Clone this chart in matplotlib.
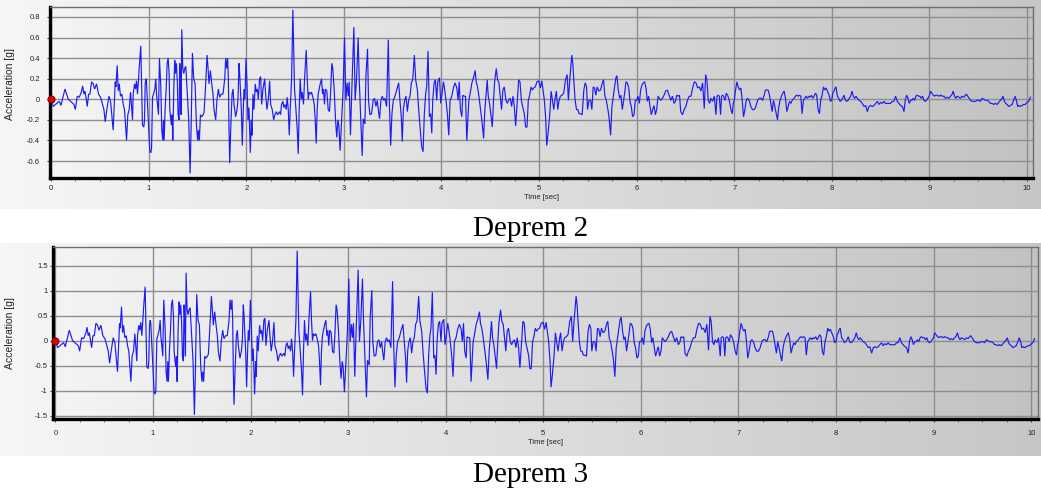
import numpy as np
import matplotlib
matplotlib.use("Agg")
import matplotlib.pyplot as plt
from matplotlib.colors import LinearSegmentedColormap
from matplotlib.ticker import FuncFormatter

# ---------------- data ----------------
TIME_S = [
    0.000, 0.024, 0.058, 0.085, 0.102, 0.143, 0.177, 0.211, 0.235, 0.249,
    0.269, 0.290, 0.314, 0.324, 0.337, 0.348, 0.372, 0.385, 0.399, 0.416,
    0.433, 0.447, 0.467, 0.487, 0.508, 0.528, 0.542, 0.556, 0.569, 0.593,
    0.610, 0.637, 0.648, 0.658, 0.665, 0.678, 0.689, 0.699, 0.712, 0.726,
    0.740, 0.753, 0.774, 0.787, 0.801, 0.815, 0.835, 0.842, 0.856, 0.866,
    0.876, 0.886, 0.897, 0.903, 0.914, 0.920, 0.927, 0.937, 0.951, 0.958,
    0.965, 0.972, 0.978, 0.992, 1.012, 1.023, 1.030, 1.040, 1.050, 1.064,
    1.074, 1.081, 1.091, 1.101, 1.111, 1.125, 1.135, 1.145, 1.152, 1.159,
    1.169, 1.180, 1.190, 1.200, 1.210, 1.217, 1.227, 1.234, 1.241, 1.248,
    1.258, 1.268, 1.275, 1.285, 1.295, 1.302, 1.312, 1.319, 1.326, 1.333,
    1.340, 1.350, 1.360, 1.370, 1.381, 1.394, 1.405, 1.411, 1.425, 1.435,
    1.449, 1.462, 1.476, 1.490, 1.503, 1.510, 1.520, 1.531, 1.544, 1.558,
    1.568, 1.582, 1.599, 1.609, 1.619, 1.633, 1.647, 1.660, 1.670, 1.687,
    1.701, 1.715, 1.728, 1.745, 1.762, 1.780, 1.790, 1.800, 1.810, 1.817,
    1.824, 1.831, 1.841, 1.855, 1.865, 1.875, 1.892, 1.906, 1.916, 1.926,
    1.933, 1.940, 1.950, 1.960, 1.967, 1.977, 1.987, 1.998, 2.008, 2.018,
    2.028, 2.035, 2.042, 2.052, 2.059, 2.069, 2.079, 2.093, 2.103, 2.114,
    2.124, 2.137, 2.148, 2.158, 2.172, 2.189, 2.199, 2.212, 2.226, 2.240,
    2.250, 2.267, 2.281, 2.294, 2.308, 2.322, 2.342, 2.352, 2.362, 2.376,
    2.386, 2.397, 2.410, 2.420, 2.431, 2.441, 2.451, 2.465, 2.478, 2.495,
    2.506, 2.523, 2.533, 2.543, 2.553, 2.564, 2.574, 2.587, 2.598, 2.615,
    2.625, 2.635, 2.645, 2.659, 2.669, 2.683, 2.697, 2.707, 2.717, 2.727,
    2.737, 2.748, 2.758, 2.772, 2.782, 2.792, 2.802, 2.812, 2.826, 2.840,
    2.853, 2.864, 2.877, 2.887, 2.901, 2.915, 2.928, 2.939, 2.949, 2.962,
    2.973, 2.983, 2.993, 3.007,
    3.021, 3.034, 3.045, 3.055, 3.068, 3.082, 3.103, 3.116, 3.130, 3.147,
    3.158, 3.171, 3.188, 3.199, 3.216, 3.226, 3.243, 3.253, 3.267, 3.284,
    3.301, 3.315, 3.329, 3.343, 3.353, 3.366, 3.380, 3.394, 3.408, 3.421,
    3.438, 3.456, 3.466, 3.480, 3.493, 3.507, 3.524, 3.541, 3.562, 3.575,
    3.589, 3.599, 3.610, 3.623, 3.637, 3.651, 3.664, 3.678, 3.692, 3.706,
    3.723, 3.736, 3.754, 3.767, 3.781, 3.798, 3.812, 3.825, 3.839, 3.849,
    3.863, 3.877, 3.890, 3.901, 3.911, 3.925, 3.938, 3.952, 3.962, 3.980,
    3.993, 4.007, 4.021, 4.034, 4.048, 4.062, 4.075, 4.089, 4.106, 4.123,
    4.140, 4.158, 4.171, 4.182, 4.195, 4.209, 4.219, 4.233, 4.247, 4.260,
    4.271, 4.281, 4.295, 4.312, 4.329, 4.346, 4.356, 4.370, 4.384, 4.397,
    4.414, 4.432, 4.445, 4.459, 4.469, 4.480, 4.493, 4.507, 4.521, 4.534,
    4.545, 4.562, 4.575, 4.589, 4.603, 4.616, 4.630, 4.644, 4.661, 4.675,
    4.688, 4.705, 4.719, 4.733, 4.747, 4.760, 4.774, 4.791, 4.805, 4.819,
    4.832, 4.849, 4.863, 4.877, 4.890, 4.904, 4.918, 4.932, 4.945, 4.962,
    4.979, 4.997, 5.014, 5.028, 5.041, 5.055, 5.069, 5.079, 5.093, 5.110,
    5.124, 5.137, 5.151, 5.168, 5.178, 5.192, 5.206, 5.219, 5.236, 5.253,
    5.271, 5.288, 5.301, 5.315, 5.326, 5.336, 5.346, 5.356, 5.370, 5.384,
    5.398, 5.411, 5.425, 5.442, 5.459, 5.473, 5.487, 5.497, 5.511, 5.528,
    5.541, 5.555, 5.569, 5.582, 5.596, 5.613, 5.630, 5.648, 5.661, 5.675,
    5.689, 5.706, 5.719, 5.733, 5.747, 5.761, 5.774, 5.788, 5.798, 5.812,
    5.826, 5.839, 5.853, 5.863, 5.877, 5.891, 5.904, 5.918, 5.932, 5.945,
    5.959, 5.973, 5.986, 6.000, 6.014, 6.028, 6.041, 6.055, 6.069, 6.082,
    6.096, 6.110, 6.123, 6.137, 6.151, 6.164, 6.178, 6.192, 6.206, 6.219,
    6.233, 6.247, 6.264, 6.281, 6.298, 6.315, 6.332, 6.350, 6.367, 6.384,
    6.398, 6.411, 6.425, 6.439, 6.452, 6.470, 6.487, 6.504, 6.521, 6.538,
    6.557, 6.574, 6.591, 6.608, 6.625, 6.642, 6.659, 6.676, 6.693, 6.707,
    6.720, 6.734, 6.748, 6.761, 6.778, 6.795, 6.813, 6.823, 6.836, 6.847,
    6.860, 6.870, 6.881, 6.891, 6.905, 6.918, 6.932, 6.949, 6.966, 6.980,
    6.990, 7.000, 7.014, 7.027, 7.041, 7.055, 7.068, 7.082, 7.095, 7.109,
    7.123, 7.136, 7.153, 7.170, 7.187, 7.205, 7.222, 7.239, 7.256, 7.273,
    7.290, 7.307, 7.320, 7.334, 7.348, 7.361, 7.375, 7.389, 7.402, 7.416,
    7.430, 7.443, 7.457, 7.470, 7.484, 7.498, 7.511, 7.525, 7.539, 7.552,
    7.566, 7.580, 7.593, 7.614, 7.627, 7.641, 7.655, 7.668, 7.682, 7.695,
    7.709, 7.723, 7.736, 7.750, 7.764, 7.777, 7.791, 7.805, 7.818, 7.832,
    7.845, 7.859, 7.873, 7.886, 7.900, 7.914, 7.927, 7.941, 7.955, 7.972,
    7.985, 7.999, 8.009, 8.023, 8.033, 8.043, 8.057, 8.070, 8.084, 8.098,
    8.111, 8.125, 8.139, 8.152, 8.166, 8.180, 8.193, 8.207, 8.220, 8.234,
    8.248, 8.261, 8.278, 8.295, 8.312, 8.330, 8.347, 8.364, 8.381, 8.398,
    8.415, 8.432, 8.449, 8.466, 8.483, 8.500, 8.517, 8.534, 8.551, 8.568,
    8.585, 8.602, 8.619, 8.636, 8.653, 8.670, 8.687, 8.705, 8.722, 8.739,
    8.752, 8.766, 8.780, 8.793, 8.807, 8.820, 8.834, 8.848, 8.861, 8.875,
    8.889, 8.902, 8.916, 8.930, 8.943, 8.957, 8.970, 8.984, 8.998, 9.011,
    9.025, 9.039, 9.052, 9.066, 9.080, 9.097, 9.114, 9.131, 9.148, 9.165,
    9.182, 9.199, 9.216, 9.233, 9.243, 9.257, 9.270, 9.284, 9.301, 9.318,
    9.335, 9.352, 9.369, 9.379, 9.393, 9.407, 9.420, 9.437, 9.454, 9.471,
    9.489, 9.506, 9.523, 9.540, 9.557, 9.574, 9.591, 9.608, 9.625, 9.642,
    9.659, 9.676, 9.693, 9.710, 9.727, 9.744, 9.754, 9.768, 9.782, 9.795,
    9.812, 9.829, 9.846, 9.863, 9.877, 9.891, 9.904, 9.918, 9.932, 9.949,
    9.966, 9.983, 10.000, 10.017, 10.034,
]

DEPREM2_G = [
    0.00, -0.07, -0.04, -0.02, -0.06, 0.10, 0.00, -0.03, -0.05, -0.10,
    0.03, 0.02, 0.08, 0.13, 0.05, 0.08, -0.07, 0.05, 0.05, 0.17,
    0.15, 0.10, 0.15, 0.05, 0.02, -0.05, -0.10, -0.22, -0.12, 0.03,
    -0.02, -0.30, -0.05, 0.17, 0.12, 0.33, 0.08, 0.15, 0.03, 0.05,
    -0.05, -0.10, -0.40, -0.15, -0.10, 0.07, -0.20, 0.05, 0.15, 0.10,
    0.18, 0.05, 0.20, 0.30, 0.45, 0.52, 0.20, -0.25, -0.27, -0.20,
    0.15, 0.20, 0.17, -0.10, -0.50, -0.52, -0.48, 0.02, 0.05, 0.10,
    0.20, 0.05, -0.05, -0.15, 0.40, 0.12, -0.30, -0.40, -0.20, -0.40,
    -0.10, 0.10, 0.35, 0.40, 0.25, -0.10, -0.20, -0.25, -0.15, -0.40,
    0.10, 0.38, 0.25, 0.35, 0.15, -0.15, -0.20, 0.35, 0.20, -0.15,
    0.68, 0.30, 0.25, 0.30, 0.32, 0.10, -0.10, -0.20, -0.72, -0.30,
    0.45, 0.20, 0.15, -0.25, -0.40, -0.30, -0.40, -0.15, -0.17, -0.15,
    -0.13, 0.10, 0.43, 0.30, 0.15, 0.28, 0.15, 0.05, -0.10, -0.20,
    0.00, 0.10, 0.02, 0.05, 0.05, 0.20, 0.40, 0.30, 0.40, 0.20,
    -0.30, -0.62, -0.30, 0.05, 0.10, -0.05, -0.17, -0.10, 0.00, 0.35,
    0.25, 0.10, -0.10, -0.45, -0.20, 0.10, 0.00, 0.40, 0.15, -0.20,
    -0.08, -0.30, -0.52, -0.20, -0.35, 0.05, -0.10, 0.15, 0.07, 0.10,
    0.00, 0.20, 0.22, -0.05, 0.10, 0.20, 0.05, -0.10, 0.00, 0.18,
    -0.05, -0.10, -0.20, -0.15, -0.12, -0.15, -0.12, -0.15, -0.05, -0.02,
    -0.08, -0.05, -0.10, 0.02, -0.10, -0.35, -0.10, 0.20, 0.87, 0.10,
    -0.05, -0.30, -0.53, -0.10, 0.20, 0.00, 0.07, -0.05, 0.20, 0.48,
    0.20, 0.00, 0.07, 0.05, 0.07, 0.02, -0.05, -0.20, -0.43, -0.10,
    0.05, 0.10, 0.15, 0.20, 0.05, 0.10, -0.05, 0.10, 0.08, -0.10,
    -0.12, 0.05, 0.35, 0.30, 0.10, -0.20, -0.37, -0.20, -0.25, -0.50,
    -0.30, -0.10, 0.10, 0.60,
    -0.01, 0.16, 0.03, 0.17, -0.35, 0.09, 0.70, -0.01, 0.19, 0.60,
    0.19, -0.14, -0.55, -0.19, -0.24, 0.22, 0.49, -0.01, -0.15, -0.14,
    -0.01, 0.01, -0.07, -0.01, -0.10, -0.19, -0.01, 0.03, -0.01, 0.01,
    -0.07, 0.58, -0.01, -0.45, -0.14, -0.01, 0.03, 0.09, 0.16, -0.01,
    -0.17, -0.41, -0.10, -0.01, 0.03, -0.12, -0.01, 0.03, 0.16, 0.19,
    0.43, 0.19, 0.09, -0.10, -0.27, -0.46, -0.51, -0.14, 0.06, 0.12,
    0.47, -0.17, -0.14, -0.33, -0.01, 0.16, 0.19, -0.01, 0.17, 0.21,
    -0.04, 0.06, 0.17, 0.09, -0.02, -0.15, -0.35, -0.01, 0.03, 0.11,
    0.16, 0.11, -0.01, 0.17, -0.10, -0.17, 0.04, 0.03, 0.03, -0.40,
    -0.20, -0.01, 0.06, 0.16, 0.21, 0.28, 0.17, 0.12, 0.03, -0.07,
    -0.20, -0.38, -0.10, 0.06, 0.19, 0.03, -0.04, -0.15, -0.27, -0.01,
    0.17, 0.30, 0.19, 0.16, 0.03, -0.10, 0.09, 0.12, -0.01, -0.04,
    -0.01, 0.01, -0.07, 0.03, -0.07, -0.26, -0.07, 0.19, 0.17, -0.01,
    -0.07, -0.14, -0.27, -0.27, -0.01, 0.04, 0.12, 0.09, 0.11, 0.12,
    0.17, 0.18, 0.11, 0.18, 0.09, -0.01, -0.20, -0.45, -0.33, -0.15,
    0.08, -0.01, -0.10, 0.03, 0.08, -0.10, -0.01, 0.03, 0.04, 0.06,
    0.19, 0.24, -0.01, 0.19, 0.32, 0.43, 0.35, 0.19, -0.01, -0.10,
    -0.10, -0.14, -0.14, -0.15, 0.09, 0.16, 0.12, -0.10, -0.01, -0.01,
    -0.10, 0.12, 0.11, 0.04, 0.12, 0.08, 0.09, 0.16, 0.19, 0.03,
    -0.01, -0.10, -0.19, -0.35, -0.07, 0.03, 0.12, 0.21, 0.23, 0.09,
    0.01, 0.04, -0.10, -0.04, 0.06, 0.17, 0.16, 0.12, -0.02, -0.07,
    -0.17, -0.15, -0.01, -0.01, 0.03, -0.04, 0.09, 0.14, 0.16, 0.17,
    0.11, -0.02, 0.03, -0.07, -0.15, -0.10, -0.06, -0.15, -0.10, 0.03,
    0.01, -0.01, 0.01, 0.04, 0.08, 0.09, 0.04, -0.01, 0.03, -0.04,
    -0.02, 0.04, 0.03, 0.04, -0.12, -0.15, -0.10, -0.07, -0.01, 0.03,
    0.03, 0.11, 0.17, 0.16, 0.11, 0.12, 0.08, 0.16, -0.09, 0.24,
    0.19, -0.01, -0.04, 0.01, -0.02, 0.03, -0.15, 0.03, 0.04, 0.03,
    -0.15, 0.03, 0.04, 0.03, -0.01, 0.06, 0.04, -0.01, -0.10, -0.14,
    -0.04, -0.01, 0.09, 0.17, 0.12, 0.09, 0.11, -0.01, -0.17, -0.10,
    -0.01, 0.01, -0.01, -0.07, -0.10, -0.10, -0.07, -0.01, 0.01, 0.01,
    -0.01, 0.04, 0.09, 0.09, 0.09, 0.04, -0.04, -0.12, -0.01, -0.07,
    -0.14, -0.20, -0.07, -0.01, 0.03, 0.06, 0.08, 0.01, -0.12, -0.07,
    -0.02, -0.04, -0.01, 0.01, 0.03, 0.04, 0.03, 0.04, 0.03, -0.14,
    -0.01, 0.01, 0.03, 0.01, 0.03, 0.02, 0.04, 0.01, 0.03, 0.06,
    0.04, -0.10, -0.14, -0.01, 0.04, 0.12, 0.09, 0.11, 0.08, 0.04,
    -0.02, -0.01, 0.06, 0.08, 0.11, 0.12, 0.03, 0.01, -0.02, -0.01,
    0.01, 0.04, -0.01, -0.02, -0.01, 0.01, 0.03, 0.08, 0.03, 0.01,
    0.03, 0.01, -0.01, -0.02, -0.04, -0.07, -0.06, -0.12, -0.07, -0.06,
    -0.07, -0.06, -0.04, -0.02, -0.05, -0.03, -0.04, -0.02, -0.04, -0.04,
    -0.04, -0.04, -0.02, -0.02, 0.03, -0.02, -0.04, -0.06, -0.07, -0.12,
    -0.01, 0.04, 0.01, -0.04, -0.01, -0.01, 0.01, -0.01, 0.03, 0.04,
    0.03, 0.03, 0.01, 0.03, -0.01, -0.02, -0.01, 0.01, 0.03, 0.08,
    0.06, 0.04, 0.03, 0.04, 0.04, 0.03, 0.04, 0.03, 0.03, 0.01,
    0.02, 0.01, 0.03, 0.05, 0.08, 0.03, 0.01, 0.03, 0.02, 0.01,
    0.03, 0.02, 0.04, 0.05, 0.03, 0.01, -0.01, -0.02, -0.02, -0.02,
    -0.01, -0.01, -0.02, 0.01, 0.00, -0.01, -0.01, -0.02, -0.04, -0.04,
    -0.05, -0.04, -0.05, -0.03, -0.01, 0.01, 0.03, -0.02, -0.04, -0.05,
    -0.07, -0.06, -0.05, -0.01, 0.03, -0.01, -0.07, -0.06, -0.07, -0.06,
    -0.05, -0.05, -0.03, -0.02, 0.02,
]

DEPREM3_G = [
    0.00, -0.14, -0.08, -0.04, -0.12, 0.21, 0.00, -0.06, -0.10, -0.21,
    0.06, 0.04, 0.16, 0.27, 0.10, 0.16, -0.14, 0.10, 0.10, 0.35,
    0.31, 0.21, 0.31, 0.10, 0.04, -0.10, -0.21, -0.45, -0.25, 0.06,
    -0.04, -0.62, -0.10, 0.35, 0.25, 0.68, 0.16, 0.31, 0.06, 0.10,
    -0.10, -0.21, -0.82, -0.31, -0.21, 0.14, -0.41, 0.10, 0.31, 0.21,
    0.37, 0.10, 0.41, 0.62, 0.93, 1.08, 0.41, -0.52, -0.56, -0.41,
    0.31, 0.41, 0.35, -0.21, -1.03, -1.07, -0.99, 0.04, 0.10, 0.21,
    0.41, 0.10, -0.10, -0.31, 0.82, 0.25, -0.62, -0.82, -0.41, -0.82,
    -0.21, 0.21, 0.72, 0.82, 0.52, -0.21, -0.41, -0.52, -0.31, -0.82,
    0.21, 0.78, 0.52, 0.72, 0.31, -0.31, -0.41, 0.72, 0.41, -0.31,
    1.36, 0.62, 0.52, 0.62, 0.66, 0.21, -0.21, -0.41, -1.48, -0.62,
    0.93, 0.41, 0.31, -0.52, -0.82, -0.62, -0.82, -0.31, -0.35, -0.31,
    -0.27, 0.21, 0.89, 0.62, 0.31, 0.58, 0.31, 0.10, -0.21, -0.41,
    0.00, 0.21, 0.04, 0.10, 0.10, 0.41, 0.82, 0.62, 0.82, 0.41,
    -0.62, -1.28, -0.62, 0.10, 0.21, -0.10, -0.35, -0.21, 0.00, 0.72,
    0.52, 0.21, -0.21, -0.93, -0.41, 0.21, 0.00, 0.82, 0.31, -0.41,
    -0.16, -0.62, -1.07, -0.41, -0.72, 0.10, -0.21, 0.31, 0.14, 0.21,
    0.00, 0.41, 0.45, -0.10, 0.21, 0.41, 0.10, -0.21, 0.00, 0.37,
    -0.10, -0.21, -0.41, -0.31, -0.25, -0.31, -0.25, -0.31, -0.10, -0.04,
    -0.16, -0.10, -0.21, 0.04, -0.21, -0.72, -0.21, 0.41, 1.80, 0.21,
    -0.10, -0.62, -1.09, -0.21, 0.41, 0.00, 0.14, -0.10, 0.41, 0.99,
    0.41, 0.00, 0.14, 0.10, 0.14, 0.04, -0.10, -0.41, -0.89, -0.21,
    0.10, 0.21, 0.31, 0.41, 0.10, 0.21, -0.10, 0.21, 0.16, -0.21,
    -0.25, 0.10, 0.72, 0.62, 0.21, -0.41, -0.76, -0.41, -0.52, -1.03,
    -0.62, -0.21, 0.21, 1.24,
    -0.02, 0.33, 0.06, 0.35, -0.72, 0.19, 1.42, -0.02, 0.39, 1.24,
    0.39, -0.29, -1.13, -0.39, -0.49, 0.45, 1.01, -0.02, -0.31, -0.29,
    -0.02, 0.02, -0.14, -0.02, -0.21, -0.39, -0.02, 0.06, -0.02, 0.02,
    -0.14, 1.19, -0.02, -0.93, -0.29, -0.02, 0.06, 0.19, 0.33, -0.02,
    -0.35, -0.84, -0.21, -0.02, 0.06, -0.25, -0.02, 0.06, 0.33, 0.39,
    0.89, 0.39, 0.19, -0.21, -0.56, -0.95, -1.05, -0.29, 0.12, 0.25,
    0.97, -0.35, -0.29, -0.68, -0.02, 0.33, 0.39, -0.02, 0.35, 0.43,
    -0.08, 0.12, 0.35, 0.19, -0.04, -0.31, -0.72, -0.02, 0.06, 0.23,
    0.33, 0.23, -0.02, 0.35, -0.21, -0.35, 0.08, 0.06, 0.06, -0.82,
    -0.41, -0.02, 0.12, 0.33, 0.43, 0.58, 0.35, 0.25, 0.06, -0.14,
    -0.41, -0.78, -0.21, 0.12, 0.39, 0.06, -0.08, -0.31, -0.56, -0.02,
    0.35, 0.62, 0.39, 0.33, 0.06, -0.21, 0.19, 0.25, -0.02, -0.08,
    -0.02, 0.02, -0.14, 0.06, -0.14, -0.54, -0.14, 0.39, 0.35, -0.02,
    -0.14, -0.29, -0.56, -0.56, -0.02, 0.08, 0.25, 0.19, 0.23, 0.25,
    0.35, 0.37, 0.23, 0.37, 0.19, -0.02, -0.41, -0.93, -0.68, -0.31,
    0.16, -0.02, -0.21, 0.06, 0.16, -0.21, -0.02, 0.06, 0.08, 0.12,
    0.39, 0.49, -0.02, 0.39, 0.66, 0.89, 0.72, 0.39, -0.02, -0.21,
    -0.21, -0.29, -0.29, -0.31, 0.19, 0.33, 0.25, -0.21, -0.02, -0.02,
    -0.21, 0.25, 0.23, 0.08, 0.25, 0.16, 0.19, 0.33, 0.39, 0.06,
    -0.02, -0.21, -0.39, -0.72, -0.14, 0.06, 0.25, 0.43, 0.47, 0.19,
    0.02, 0.08, -0.21, -0.08, 0.12, 0.35, 0.33, 0.25, -0.04, -0.14,
    -0.35, -0.31, -0.02, -0.02, 0.06, -0.08, 0.19, 0.29, 0.33, 0.35,
    0.23, -0.04, 0.06, -0.14, -0.31, -0.21, -0.12, -0.31, -0.21, 0.06,
    0.02, -0.02, 0.02, 0.08, 0.16, 0.19, 0.08, -0.02, 0.06, -0.08,
    -0.04, 0.08, 0.06, 0.08, -0.25, -0.31, -0.21, -0.14, -0.02, 0.06,
    0.06, 0.23, 0.35, 0.33, 0.23, 0.25, 0.16, 0.33, -0.19, 0.49,
    0.39, -0.02, -0.08, 0.02, -0.04, 0.06, -0.31, 0.06, 0.08, 0.06,
    -0.31, 0.06, 0.08, 0.06, -0.02, 0.12, 0.08, -0.02, -0.21, -0.29,
    -0.08, -0.02, 0.19, 0.35, 0.25, 0.19, 0.23, -0.02, -0.35, -0.21,
    -0.02, 0.02, -0.02, -0.14, -0.21, -0.21, -0.14, -0.02, 0.02, 0.02,
    -0.02, 0.08, 0.19, 0.19, 0.19, 0.08, -0.08, -0.25, -0.02, -0.14,
    -0.29, -0.41, -0.14, -0.02, 0.06, 0.12, 0.16, 0.02, -0.25, -0.14,
    -0.04, -0.08, -0.02, 0.02, 0.06, 0.08, 0.06, 0.08, 0.06, -0.29,
    -0.02, 0.02, 0.06, 0.02, 0.06, 0.04, 0.08, 0.02, 0.06, 0.12,
    0.08, -0.21, -0.29, -0.02, 0.08, 0.25, 0.19, 0.23, 0.16, 0.08,
    -0.04, -0.02, 0.12, 0.16, 0.23, 0.25, 0.06, 0.02, -0.04, -0.02,
    0.02, 0.08, -0.02, -0.04, -0.02, 0.02, 0.06, 0.16, 0.06, 0.02,
    0.06, 0.02, -0.02, -0.04, -0.08, -0.14, -0.12, -0.25, -0.14, -0.12,
    -0.14, -0.12, -0.08, -0.04, -0.10, -0.06, -0.08, -0.04, -0.08, -0.08,
    -0.08, -0.08, -0.04, -0.04, 0.06, -0.04, -0.08, -0.12, -0.14, -0.25,
    -0.02, 0.08, 0.02, -0.08, -0.02, -0.02, 0.02, -0.02, 0.06, 0.08,
    0.06, 0.06, 0.02, 0.06, -0.02, -0.04, -0.02, 0.02, 0.06, 0.16,
    0.12, 0.08, 0.06, 0.08, 0.08, 0.06, 0.08, 0.06, 0.06, 0.02,
    0.04, 0.02, 0.06, 0.10, 0.16, 0.06, 0.02, 0.06, 0.04, 0.02,
    0.06, 0.04, 0.08, 0.10, 0.06, 0.02, -0.02, -0.04, -0.04, -0.04,
    -0.02, -0.02, -0.04, 0.02, 0.00, -0.02, -0.02, -0.04, -0.08, -0.08,
    -0.10, -0.08, -0.10, -0.06, -0.02, 0.02, 0.06, -0.04, -0.08, -0.10,
    -0.14, -0.12, -0.10, -0.02, 0.06, -0.02, -0.14, -0.12, -0.14, -0.12,
    -0.10, -0.10, -0.06, -0.04, 0.04,
]

TITLES = ["Deprem 2", "Deprem 3"]
X_LABEL = "Time [sec]"
Y_LABEL = "Acceleration [g]"
X_TICKS = [0, 1, 2, 3, 4, 5, 6, 7, 8, 9, 10]
Y_TICKS_2 = [-0.6, -0.4, -0.2, 0.0, 0.2, 0.4, 0.6, 0.8]
Y_TICKS_3 = [-1.5, -1.0, -0.5, 0.0, 0.5, 1.0, 1.5]

# ---------------- layout ----------------
W, H = 1041, 492
fig = plt.figure(figsize=(W / 100, H / 100), dpi=100)
fig.patch.set_facecolor("white")

grad = np.linspace(0, 1, 256).reshape(1, -1)
panel_cmap = LinearSegmentedColormap.from_list("panel", ["#f6f6f6", "#c6c6c6"])
plot_cmap = LinearSegmentedColormap.from_list("plot", ["#f4f4f4", "#c2c2c2"])

bg = fig.add_axes([0, 0, 1, 1], zorder=-10)
bg.set_xlim(0, W)
bg.set_ylim(H, 0)
bg.axis("off")
bg.imshow(grad, extent=[0, W, 209, 0], cmap=panel_cmap, aspect="auto")
bg.imshow(grad, extent=[0, W, 456, 243], cmap=panel_cmap, aspect="auto")

sans = "Liberation Sans"

panels = [
    dict(rect=[49.5, 7, 1033, 178], x0=-0.0154, x1=10.061, ylim=(-0.765, 0.897),
         yticks=Y_TICKS_2, data=DEPREM2_G, xpad=2.5, ypad=4.5, ylab_y=0.55,
         title_y=236.5, title=TITLES[0]),
    dict(rect=[52.7, 246.7, 1038, 419], x0=-0.027, x1=10.069, ylim=(-1.566, 1.88),
         yticks=Y_TICKS_3, data=DEPREM3_G, xpad=5.5, ypad=1.0, ylab_y=0.5,
         title_y=481.5, title=TITLES[1]),
]

fmt = FuncFormatter(lambda v, p: f"{v:g}")

for p in panels:
    l, t, r, b = p["rect"]
    ax = fig.add_axes([l / W, (H - b) / H, (r - l) / W, (b - t) / H])
    ax.set_xlim(p["x0"], p["x1"])
    ax.set_ylim(*p["ylim"])
    ax.imshow(grad, extent=[p["x0"], p["x1"], p["ylim"][0], p["ylim"][1]],
              cmap=plot_cmap, aspect="auto", zorder=0)
    ax.set_xticks(X_TICKS)
    ax.set_xticks(np.arange(0, 10.01, 0.25), minor=True)
    ax.set_yticks(p["yticks"])
    ax.xaxis.set_major_formatter(fmt)
    ax.yaxis.set_major_formatter(fmt)
    ax.grid(which="major", color="#8e8e8e", linewidth=1.0, zorder=1)
    ax.set_axisbelow(True)
    ax.plot(TIME_S, p["data"], color="#1c1cf5", linewidth=0.85, zorder=3,
            solid_joinstyle="miter")
    ax.plot(TIME_S[0], p["data"][0], "o", ms=5.2, mfc="#e00000", mec="#700000",
            mew=0.6, zorder=4, clip_on=False)
    for s in ("left", "bottom"):
        ax.spines[s].set_color("black")
        ax.spines[s].set_linewidth(2.4)
    for s in ("top", "right"):
        ax.spines[s].set_color("#6e6e6e")
        ax.spines[s].set_linewidth(1.0)
    ax.tick_params(axis="x", which="major", direction="out", length=2.5, width=0.8,
                   color="#444444", labelsize=5.5, pad=p["xpad"])
    ax.tick_params(axis="x", which="minor", direction="out", length=2.0, width=0.6,
                   color="#555555")
    ax.tick_params(axis="y", which="major", direction="out", length=2.5, width=0.8,
                   color="#444444", labelsize=5.5, pad=p["ypad"])
    for lab in ax.get_xticklabels() + ax.get_yticklabels():
        lab.set_family(sans)
        lab.set_color("#222222")
    ax.set_xlabel(X_LABEL, family=sans, fontsize=5.5, color="#222222", labelpad=1.5)
    ax.set_ylabel(Y_LABEL, family=sans, fontsize=7.5, color="#222222")
    ax.yaxis.set_label_coords((15 - l) / (r - l), p["ylab_y"])
    fig.text(531 / W, 1 - p["title_y"] / H, p["title"], ha="center", va="baseline",
             family="Liberation Serif", fontsize=21, color="black")

fig.savefig("out.png", dpi=100, facecolor="white")
